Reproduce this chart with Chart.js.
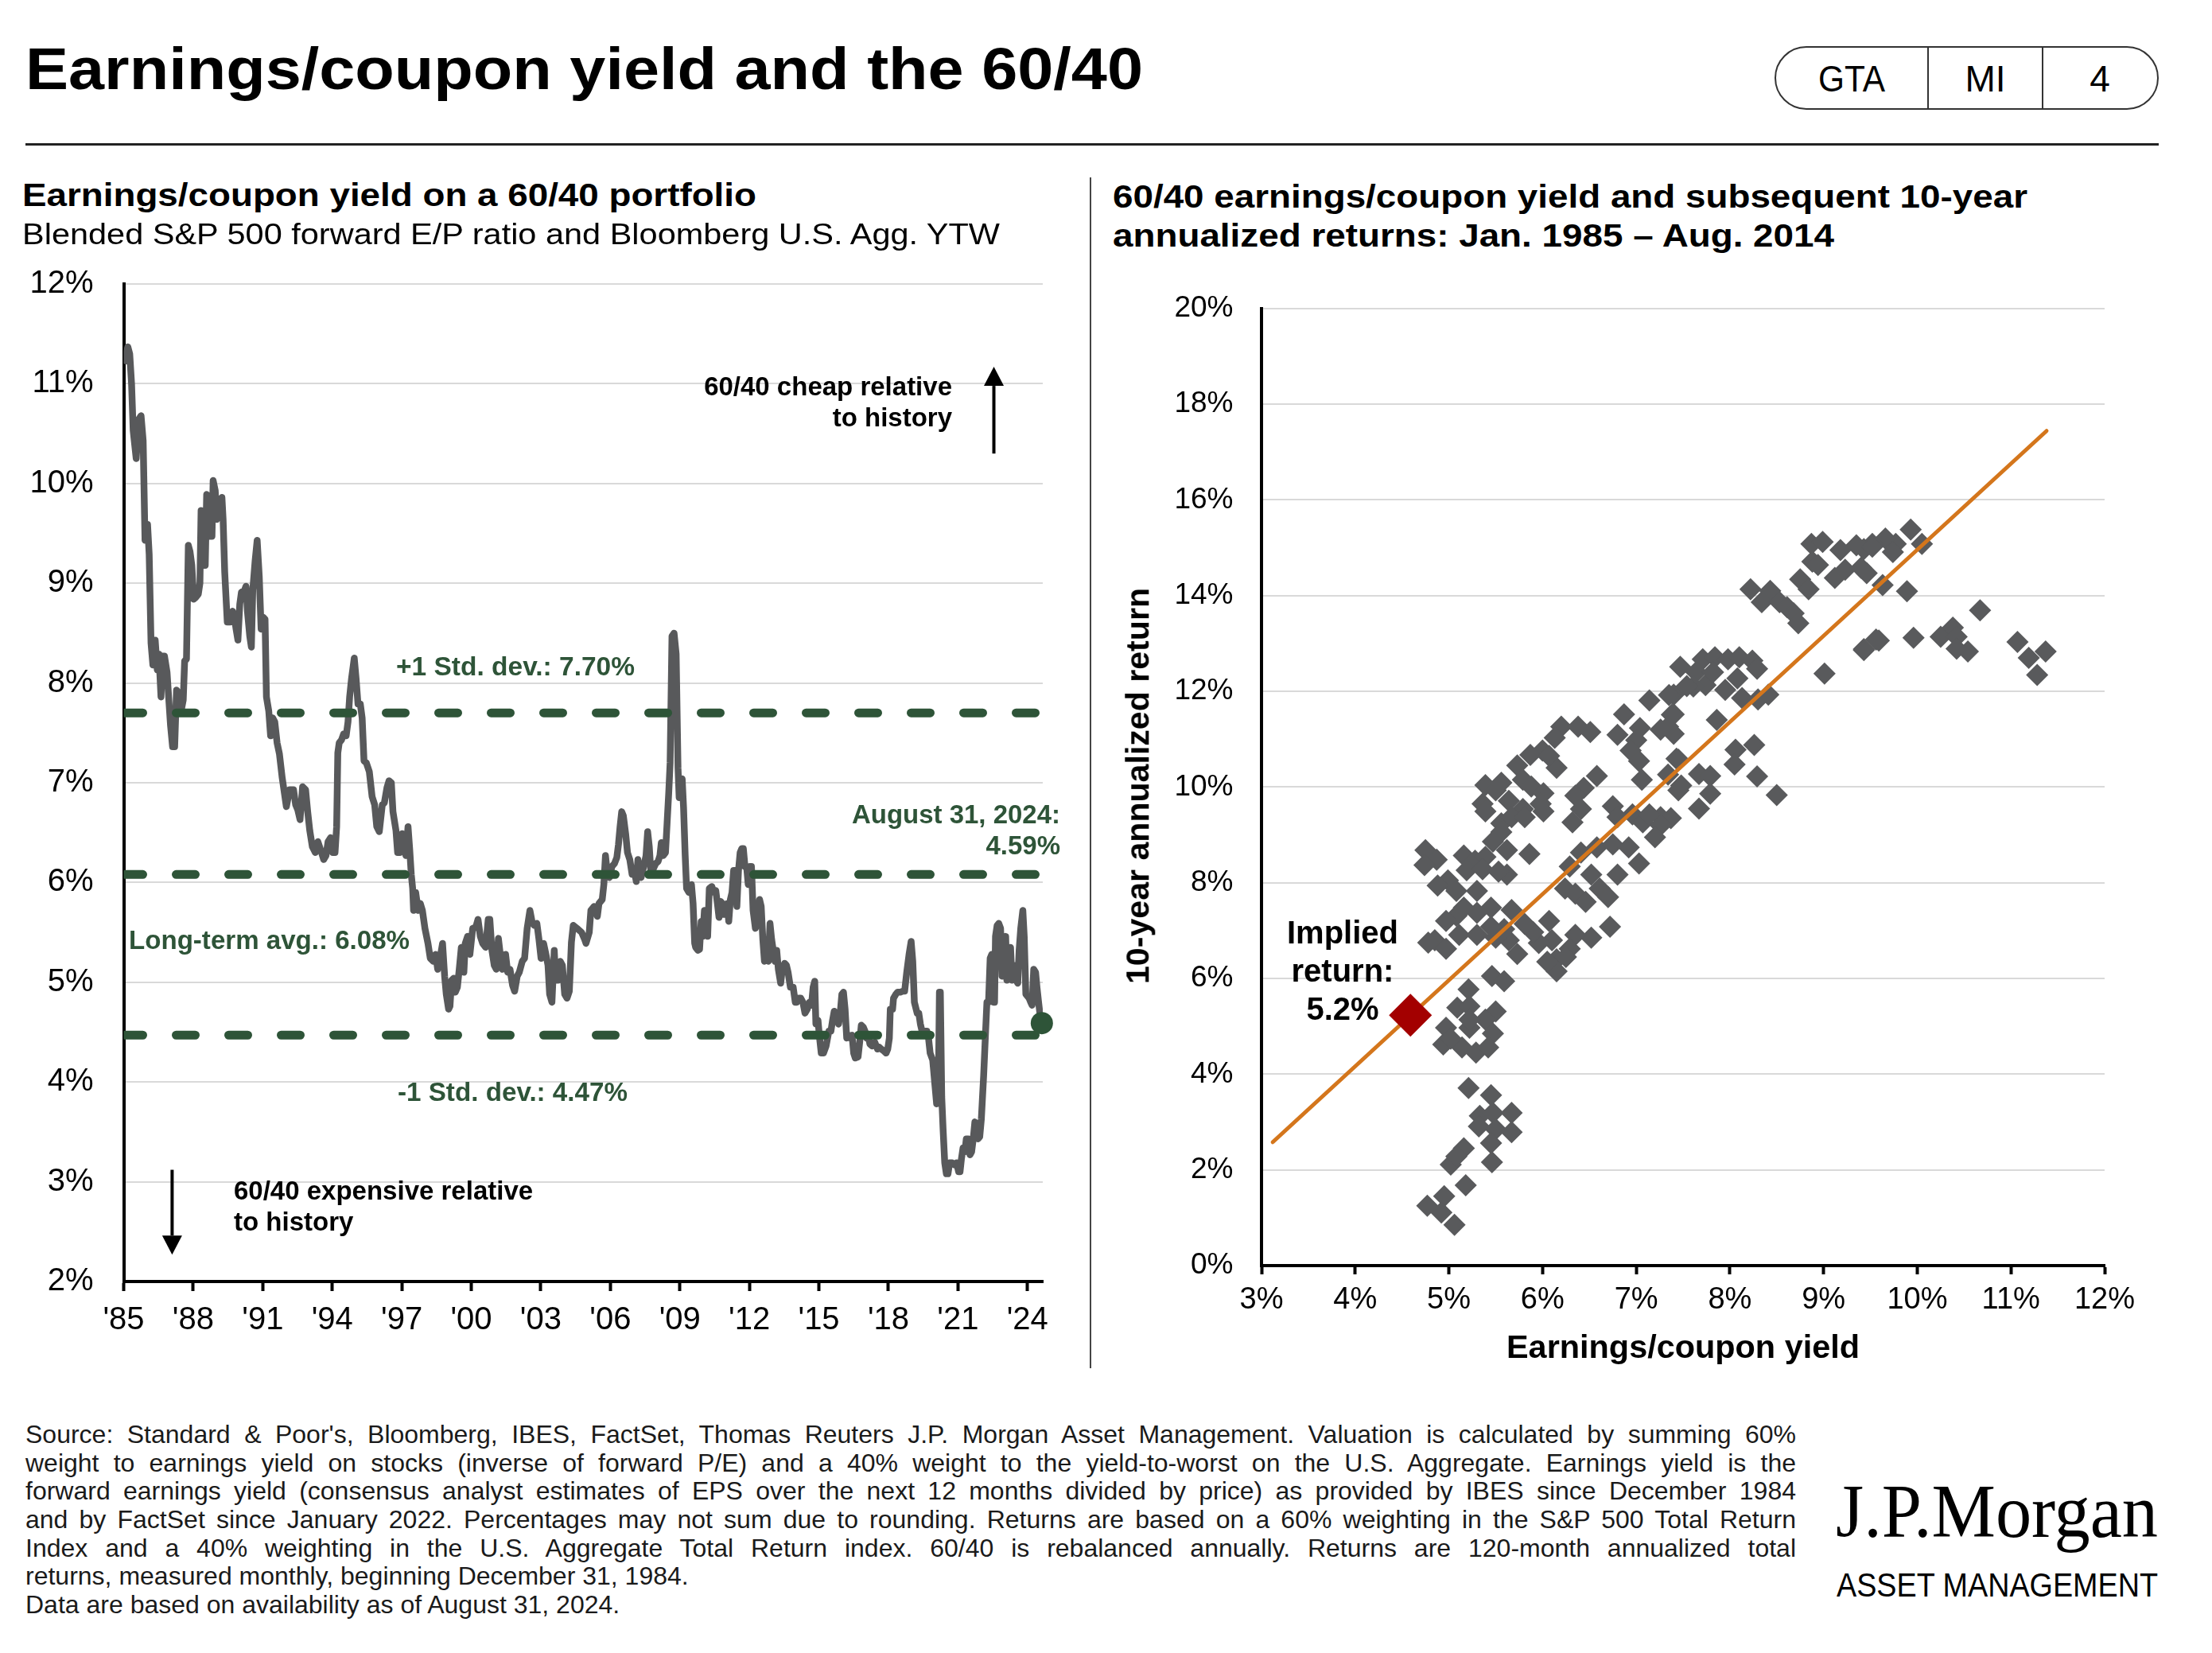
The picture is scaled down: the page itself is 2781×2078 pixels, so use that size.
<!DOCTYPE html>
<html>
<head>
<meta charset="utf-8">
<script src="https://cdn.jsdelivr.net/npm/chart.js@4.4.1/dist/chart.umd.min.js"></script>
<style>
  html, body { margin: 0; padding: 0; background: #fff; }
  body { width: 2781px; height: 2078px; position: relative; overflow: hidden;
         font-family: "Liberation Sans", Arial, sans-serif; color: #000; }
  .t { position: absolute; white-space: pre; transform-origin: 0 50%; }
  canvas { position: absolute; }
  .rule { position: absolute; background: #222; }
</style>
</head>
<body>

<div class="rule" style="left:32px;top:180px;width:2682px;height:3px"></div>
<div class="rule" style="left:1370px;top:223px;width:2px;height:1497px;background:#444"></div>
<div style="position:absolute;left:2231px;top:58px;width:479px;height:76px;border:2.5px solid #333;border-radius:40px"></div>
<div class="rule" style="left:2423px;top:59px;width:2px;height:79px;background:#333"></div>
<div class="rule" style="left:2567px;top:59px;width:2px;height:79px;background:#333"></div>

<canvas id="left" width="1371" height="1435" style="left:0;top:295px;width:1371px;height:1435px"></canvas>
<canvas id="right" width="1401" height="1430" style="left:1380px;top:330px;width:1401px;height:1430px"></canvas>

<script>
// ---- data ----
// 60/40 earnings/coupon yield, [year, %]
const yieldHistory = [
  [1985.00, 11.20], [1985.10, 11.30], [1985.18, 11.37], [1985.26, 11.30], [1985.34, 11.00],
  [1985.41, 10.53], [1985.54, 10.25], [1985.64, 10.64], [1985.75, 10.68], [1985.84, 10.43],
  [1985.92, 9.43], [1986.03, 9.59], [1986.10, 9.29], [1986.18, 8.40], [1986.26, 8.18],
  [1986.36, 8.43], [1986.45, 8.13], [1986.52, 8.29], [1986.61, 7.86], [1986.68, 8.27],
  [1986.76, 8.27], [1986.87, 8.11], [1986.94, 7.86], [1987.02, 7.58], [1987.11, 7.36],
  [1987.20, 7.36], [1987.28, 7.93], [1987.37, 7.90], [1987.48, 7.72], [1987.57, 7.83],
  [1987.63, 8.22], [1987.71, 8.24], [1987.79, 9.38], [1987.86, 9.32], [1987.94, 9.18],
  [1988.02, 8.84], [1988.12, 8.86], [1988.22, 8.89], [1988.29, 9.00], [1988.34, 9.73],
  [1988.40, 9.72], [1988.45, 9.18], [1988.52, 9.18], [1988.58, 9.89], [1988.68, 9.86],
  [1988.74, 9.47], [1988.81, 9.47], [1988.86, 10.03], [1988.95, 9.93], [1989.01, 9.64],
  [1989.09, 9.82], [1989.17, 9.68], [1989.24, 9.86], [1989.29, 9.64], [1989.36, 9.11],
  [1989.47, 8.61], [1989.59, 8.61], [1989.70, 8.72], [1989.78, 8.66], [1989.85, 8.54],
  [1989.93, 8.43], [1990.01, 8.79], [1990.08, 8.91], [1990.21, 8.93], [1990.28, 8.97],
  [1990.34, 8.72], [1990.44, 8.47], [1990.51, 8.36], [1990.57, 8.93], [1990.67, 9.22],
  [1990.76, 9.43], [1990.85, 9.07], [1990.93, 8.54], [1991.02, 8.66], [1991.10, 8.64],
  [1991.16, 7.86], [1991.26, 7.72], [1991.34, 7.47], [1991.43, 7.65], [1991.52, 7.61],
  [1991.62, 7.40], [1991.72, 7.29], [1991.84, 7.05], [1992.02, 6.76], [1992.16, 6.93],
  [1992.33, 6.93], [1992.42, 6.78], [1992.51, 6.73], [1992.61, 6.63], [1992.72, 6.96],
  [1992.85, 6.93], [1992.94, 6.71], [1993.03, 6.52], [1993.14, 6.36], [1993.27, 6.30],
  [1993.38, 6.41], [1993.51, 6.32], [1993.63, 6.23], [1993.73, 6.27], [1993.82, 6.41],
  [1993.93, 6.45], [1994.02, 6.30], [1994.12, 6.30], [1994.19, 6.56], [1994.24, 7.30],
  [1994.30, 7.40], [1994.40, 7.43], [1994.49, 7.49], [1994.60, 7.47], [1994.68, 7.61],
  [1994.75, 7.86], [1994.83, 8.04], [1994.95, 8.25], [1995.03, 8.04], [1995.11, 7.79],
  [1995.21, 7.79], [1995.29, 7.65], [1995.37, 7.22], [1995.47, 7.20], [1995.60, 7.11],
  [1995.72, 6.86], [1995.83, 6.78], [1995.92, 6.56], [1996.03, 6.51], [1996.16, 6.78],
  [1996.25, 6.80], [1996.36, 6.95], [1996.45, 7.02], [1996.55, 7.00], [1996.62, 6.71],
  [1996.75, 6.52], [1996.82, 6.30], [1996.92, 6.30], [1997.01, 6.49], [1997.10, 6.34],
  [1997.18, 6.27], [1997.27, 6.56], [1997.34, 6.34], [1997.41, 6.08], [1997.47, 5.94],
  [1997.51, 5.72], [1997.60, 5.90], [1997.71, 5.72], [1997.80, 5.79], [1997.89, 5.72],
  [1998.00, 5.54], [1998.13, 5.39], [1998.23, 5.24], [1998.36, 5.21], [1998.46, 5.28],
  [1998.55, 5.13], [1998.65, 5.24], [1998.76, 5.39], [1998.85, 5.06], [1998.92, 4.88],
  [1999.02, 4.73], [1999.08, 4.76], [1999.15, 5.02], [1999.24, 5.04], [1999.31, 4.90],
  [1999.40, 4.95], [1999.48, 5.13], [1999.57, 5.35], [1999.68, 5.10], [1999.74, 5.39],
  [1999.84, 5.46], [1999.94, 5.28], [2000.06, 5.54], [2000.19, 5.55], [2000.29, 5.63],
  [2000.39, 5.46], [2000.49, 5.39], [2000.62, 5.35], [2000.73, 5.63], [2000.80, 5.63],
  [2000.89, 5.32], [2000.99, 5.17], [2001.08, 5.13], [2001.17, 5.44], [2001.25, 5.28],
  [2001.34, 5.13], [2001.48, 5.28], [2001.57, 5.10], [2001.67, 5.13], [2001.78, 4.97],
  [2001.87, 4.91], [2001.98, 5.06], [2002.07, 5.10], [2002.20, 5.21], [2002.30, 5.24],
  [2002.41, 5.54], [2002.53, 5.72], [2002.62, 5.61], [2002.72, 5.57], [2002.83, 5.59],
  [2002.92, 5.43], [2003.01, 5.24], [2003.12, 5.39], [2003.22, 5.28], [2003.31, 5.17],
  [2003.38, 4.88], [2003.48, 4.80], [2003.58, 5.32], [2003.64, 5.02], [2003.75, 5.02],
  [2003.84, 5.21], [2003.93, 5.17], [2004.03, 4.88], [2004.13, 4.84], [2004.23, 4.91],
  [2004.32, 5.40], [2004.40, 5.57], [2004.56, 5.54], [2004.76, 5.50], [2004.89, 5.43],
  [2004.95, 5.39], [2005.09, 5.50], [2005.16, 5.72], [2005.30, 5.76], [2005.44, 5.66],
  [2005.51, 5.79], [2005.65, 5.83], [2005.72, 5.98], [2005.79, 6.27], [2005.86, 6.12],
  [2005.96, 6.05], [2006.07, 6.16], [2006.18, 6.19], [2006.28, 6.25], [2006.35, 6.38],
  [2006.42, 6.56], [2006.49, 6.71], [2006.56, 6.67], [2006.66, 6.49], [2006.74, 6.30],
  [2006.84, 6.23], [2006.94, 6.08], [2007.05, 6.10], [2007.12, 6.01], [2007.19, 6.23],
  [2007.26, 6.12], [2007.33, 6.05], [2007.44, 6.16], [2007.54, 6.27], [2007.61, 6.51],
  [2007.68, 6.36], [2007.75, 6.10], [2007.86, 6.14], [2007.96, 6.19], [2008.06, 6.21],
  [2008.14, 6.27], [2008.20, 6.40], [2008.28, 6.27], [2008.38, 6.30], [2008.45, 6.60],
  [2008.52, 6.90], [2008.58, 7.20], [2008.66, 8.47], [2008.75, 8.50], [2008.84, 8.29],
  [2008.92, 7.15], [2008.97, 6.85], [2009.04, 7.00], [2009.10, 7.04], [2009.16, 6.75],
  [2009.23, 6.27], [2009.29, 5.94], [2009.39, 5.90], [2009.50, 5.98], [2009.57, 5.79],
  [2009.64, 5.39], [2009.68, 5.35], [2009.78, 5.32], [2009.85, 5.33], [2009.92, 5.61],
  [2009.99, 5.46], [2010.06, 5.72], [2010.13, 5.54], [2010.20, 5.46], [2010.27, 5.94],
  [2010.38, 5.96], [2010.48, 5.90], [2010.55, 5.92], [2010.62, 5.79], [2010.69, 5.65],
  [2010.76, 5.81], [2010.83, 5.79], [2010.90, 5.68], [2010.97, 5.76], [2011.04, 5.79],
  [2011.11, 5.61], [2011.18, 5.83], [2011.25, 5.90], [2011.32, 6.12], [2011.39, 6.12],
  [2011.46, 5.76], [2011.53, 6.12], [2011.60, 6.30], [2011.67, 6.34], [2011.74, 6.34],
  [2011.81, 6.16], [2011.88, 6.16], [2011.95, 5.98], [2012.02, 6.16], [2012.09, 6.16],
  [2012.16, 5.72], [2012.26, 5.54], [2012.34, 5.61], [2012.44, 5.83], [2012.51, 5.76],
  [2012.58, 5.43], [2012.65, 5.21], [2012.72, 5.24], [2012.82, 5.21], [2012.89, 5.59],
  [2012.96, 5.43], [2013.03, 5.32], [2013.10, 5.21], [2013.18, 5.32], [2013.25, 5.13],
  [2013.35, 4.99], [2013.42, 5.13], [2013.52, 5.19], [2013.60, 5.17], [2013.67, 5.10],
  [2013.77, 4.95], [2013.89, 4.95], [2013.98, 4.80], [2014.05, 4.80], [2014.12, 4.84],
  [2014.22, 4.84], [2014.31, 4.80], [2014.40, 4.69], [2014.50, 4.73], [2014.59, 4.80],
  [2014.68, 4.77], [2014.75, 4.95], [2014.82, 5.01], [2014.87, 4.58], [2014.96, 4.62],
  [2015.03, 4.44], [2015.10, 4.29], [2015.20, 4.29], [2015.31, 4.36], [2015.43, 4.51],
  [2015.52, 4.51], [2015.59, 4.62], [2015.66, 4.71], [2015.76, 4.69], [2015.85, 4.58],
  [2015.92, 4.69], [2015.99, 4.88], [2016.06, 4.90], [2016.13, 4.73], [2016.20, 4.44],
  [2016.27, 4.47], [2016.36, 4.44], [2016.43, 4.47], [2016.50, 4.29], [2016.57, 4.24],
  [2016.69, 4.25], [2016.76, 4.40], [2016.83, 4.57], [2016.92, 4.55], [2016.99, 4.51],
  [2017.06, 4.44], [2017.13, 4.47], [2017.20, 4.38], [2017.30, 4.36], [2017.41, 4.40],
  [2017.53, 4.33], [2017.60, 4.35], [2017.69, 4.33], [2017.81, 4.31], [2017.90, 4.29],
  [2017.97, 4.33], [2018.04, 4.44], [2018.08, 4.73], [2018.18, 4.73], [2018.22, 4.84],
  [2018.32, 4.88], [2018.39, 4.90], [2018.51, 4.90], [2018.61, 4.91], [2018.70, 4.91],
  [2018.79, 5.10], [2018.89, 5.28], [2018.98, 5.41], [2019.05, 5.21], [2019.12, 4.80],
  [2019.24, 4.69], [2019.31, 4.69], [2019.38, 4.58], [2019.45, 4.51], [2019.52, 4.51],
  [2019.66, 4.51], [2019.73, 4.44], [2019.80, 4.29], [2019.91, 4.22], [2020.01, 3.96],
  [2020.08, 3.78], [2020.15, 3.82], [2020.20, 4.90], [2020.24, 4.90], [2020.30, 3.85],
  [2020.36, 3.52], [2020.43, 3.19], [2020.50, 3.08], [2020.57, 3.08], [2020.64, 3.19],
  [2020.75, 3.19], [2020.85, 3.17], [2020.94, 3.19], [2021.03, 3.10], [2021.09, 3.10],
  [2021.15, 3.23], [2021.22, 3.34], [2021.30, 3.30], [2021.36, 3.43], [2021.45, 3.43],
  [2021.52, 3.27], [2021.59, 3.30], [2021.66, 3.43], [2021.73, 3.60], [2021.80, 3.58],
  [2021.87, 3.43], [2021.94, 3.45], [2022.01, 3.63], [2022.11, 4.07], [2022.18, 4.44],
  [2022.25, 4.80], [2022.32, 4.80], [2022.39, 5.24], [2022.46, 5.28], [2022.53, 4.80],
  [2022.58, 4.80], [2022.62, 5.46], [2022.69, 5.57], [2022.76, 5.59], [2022.84, 5.54],
  [2022.90, 5.06], [2022.99, 5.28], [2023.06, 5.46], [2023.11, 5.02], [2023.18, 5.32],
  [2023.27, 5.35], [2023.33, 5.02], [2023.41, 5.17], [2023.51, 5.02], [2023.58, 4.99],
  [2023.64, 5.32], [2023.71, 5.54], [2023.80, 5.72], [2023.86, 5.46], [2023.93, 4.88],
  [2024.00, 4.86], [2024.07, 4.84], [2024.14, 4.80], [2024.20, 4.77], [2024.27, 5.13],
  [2024.35, 5.10], [2024.41, 4.95], [2024.48, 4.80], [2024.55, 4.66], [2024.62, 4.59]
];
const latestPoint = [2024.62, 4.59];
const stdLevels = [7.70, 6.08, 4.47];
const yearRange = [1985, 2024.66];
const yearTicks = [1985, 1988, 1991, 1994, 1997, 2000, 2003, 2006, 2009, 2012, 2015, 2018, 2021, 2024];
const yieldTicksLeft = [2, 12, 1];

// scatter: [earnings/coupon yield %, subsequent 10y annualized return %]
const scatterPoints = [
  [9.93, 15.38], [10.05, 15.08], [9.77, 15.08], [9.66, 15.19], [9.52, 15.08], [9.43, 14.97],
  [9.74, 14.91], [9.46, 14.47], [9.63, 14.22], [9.89, 14.09], [10.67, 13.69], [9.59, 13.06],
  [9.43, 12.86], [9.96, 13.12], [10.25, 13.14], [10.38, 13.33], [10.42, 13.14], [10.42, 12.89],
  [10.54, 12.83], [11.07, 13.03], [11.19, 12.70], [11.37, 12.83], [11.28, 12.34],
  [8.87, 15.08], [8.99, 15.12], [9.18, 14.95], [9.35, 15.05], [9.52, 15.02], [8.88, 14.71],
  [8.94, 14.64], [8.75, 14.34], [8.84, 14.13], [9.12, 14.37], [9.23, 14.54], [9.40, 14.58],
  [8.22, 14.13], [8.43, 14.10], [8.34, 13.86], [8.53, 13.86], [8.61, 13.76], [8.68, 13.63],
  [8.73, 13.42], [9.43, 12.88], [9.56, 13.08], [9.01, 12.37],
  [7.47, 12.51], [7.71, 12.67], [7.84, 12.71], [7.98, 12.67], [8.10, 12.71], [8.24, 12.64],
  [8.29, 12.47], [7.64, 12.40], [7.74, 12.13], [7.61, 12.10], [7.82, 12.40], [8.08, 12.27],
  [7.95, 12.03], [8.13, 11.86], [8.30, 11.83], [8.41, 11.93], [7.40, 11.93], [7.40, 11.52],
  [7.40, 11.11], [7.86, 11.40], [8.06, 10.78], [8.26, 10.88], [8.05, 10.47], [8.29, 10.22],
  [8.50, 9.83], [7.45, 10.57], [7.48, 10.03], [7.67, 10.27], [7.79, 10.23], [7.79, 9.86],
  [7.67, 9.55], [7.37, 9.35],
  [7.54, 12.11], [7.35, 11.92], [7.14, 11.81], [6.87, 11.52], [7.38, 11.51], [7.34, 11.26],
  [7.04, 11.23], [7.26, 11.20], [6.80, 11.09], [7.00, 10.98], [6.94, 10.76], [7.03, 10.54],
  [7.06, 10.15], [7.43, 10.59], [7.34, 10.26], [7.45, 9.93], [7.26, 9.37], [6.96, 9.43],
  [6.75, 9.60], [7.07, 9.26], [6.20, 11.26], [6.38, 11.26], [6.51, 11.15], [6.13, 11.03],
  [6.00, 10.76], [5.87, 10.67], [5.73, 10.45], [6.15, 10.40], [6.07, 10.65], [6.58, 10.23],
  [6.44, 9.98], [6.35, 9.82], [6.41, 9.54], [5.39, 10.04], [5.50, 9.93], [5.56, 10.09],
  [5.79, 10.15], [5.88, 10.01], [6.01, 9.87], [5.36, 9.65], [5.64, 9.71], [5.79, 9.54],
  [5.98, 9.65], [5.56, 9.24],
  [5.39, 9.49], [5.67, 9.37], [5.81, 9.37], [6.01, 9.49], [6.32, 9.26], [6.80, 9.37],
  [7.14, 9.43], [7.26, 9.20], [5.56, 9.06], [5.47, 8.86], [5.62, 8.68], [5.86, 8.60],
  [4.75, 8.68], [4.87, 8.48], [4.74, 8.37], [5.16, 8.57], [5.28, 8.46], [5.39, 8.54],
  [5.19, 8.26], [5.36, 8.28], [5.62, 8.17], [5.53, 8.23], [4.99, 8.05], [5.08, 7.83],
  [4.88, 7.94], [5.30, 7.83], [6.41, 8.63], [6.58, 8.74], [6.75, 8.80], [6.92, 8.74],
  [7.03, 8.40], [6.80, 8.17], [6.61, 7.88], [6.52, 8.17], [6.29, 8.34], [6.24, 7.88],
  [6.35, 7.77], [6.46, 7.60], [6.72, 7.08], [6.52, 6.85], [6.35, 6.91], [6.29, 6.62],
  [6.15, 6.40], [6.10, 6.80], [5.96, 6.74], [5.90, 6.97], [5.73, 6.51], [5.64, 6.80],
  [5.50, 6.85], [5.59, 7.03], [5.67, 7.43], [5.45, 7.48], [5.30, 7.37], [5.08, 7.31],
  [4.97, 7.20], [4.85, 6.80], [4.97, 6.62], [5.11, 6.91], [5.16, 7.48], [5.81, 7.14],
  [6.07, 7.20], [5.45, 7.08], [5.30, 6.91], [6.15, 6.15], [6.05, 6.35], [6.25, 6.45],
  [7.20, 8.95], [4.78, 6.75], [6.70, 7.70],
  [5.46, 6.05], [5.59, 5.94], [5.21, 5.77], [5.09, 5.39], [5.22, 5.42], [5.50, 5.31],
  [5.39, 5.14], [4.97, 4.97], [5.22, 4.97], [5.47, 4.85], [4.94, 4.62], [5.14, 4.56],
  [5.29, 4.45], [5.42, 4.56], [5.22, 5.14], [5.02, 4.74],
  [5.21, 3.71], [5.45, 3.56], [5.33, 3.13], [5.47, 3.19], [5.67, 3.19], [5.32, 2.91],
  [5.50, 2.85], [5.67, 2.79], [5.45, 2.56], [5.46, 2.16], [5.16, 2.45], [5.02, 2.11],
  [5.18, 1.68], [4.95, 1.45], [4.77, 1.25], [4.92, 1.11], [5.06, 0.85], [5.08, 2.28]
];
const fitLine = [[3.12, 2.58], [11.38, 17.44]];
const impliedPoint = [4.59, 5.23];
const yieldTicksRight = [3, 12, 1];
const returnTicks = [0, 20, 2];

// arrows on the left chart, in data units: x year, from -> to value
const arrows = [
  { x: 2022.55, from: 10.30, to: 11.17 },
  { x: 1987.09, from: 3.12, to: 2.27 }
];

const GREEN = '#2E5438';
const GRAY = '#58595B';
const FONT = '"Liberation Sans", Arial, sans-serif';

Chart.defaults.font.family = FONT;
Chart.defaults.color = '#000';

const arrowPlugin = {
  id: 'arrows',
  afterDatasetsDraw(chart) {
    const ctx = chart.ctx, x = chart.scales.x, y = chart.scales.y;
    ctx.save();
    ctx.fillStyle = '#000';
    ctx.strokeStyle = '#000';
    ctx.lineWidth = 4;
    arrows.forEach(a => {
      const px = x.getPixelForValue(a.x);
      const p0 = y.getPixelForValue(a.from);
      const p1 = y.getPixelForValue(a.to);
      const dir = Math.sign(p1 - p0);
      const head = 24;
      ctx.beginPath();
      ctx.moveTo(px, p0);
      ctx.lineTo(px, p1 - dir * head);
      ctx.stroke();
      ctx.beginPath();
      ctx.moveTo(px, p1);
      ctx.lineTo(px - 12.5, p1 - dir * head);
      ctx.lineTo(px + 12.5, p1 - dir * head);
      ctx.closePath();
      ctx.fill();
    });
    ctx.restore();
  }
};

// left chart: time series
new Chart(document.getElementById('left'), {
  type: 'line',
  data: {
    datasets: [
      ...stdLevels.map(v => ({
        data: [{ x: yearRange[0], y: v }, { x: yearRange[1], y: v }],
        borderColor: GREEN, borderWidth: 11, borderDash: [24, 42], borderCapStyle: 'round',
        pointRadius: 0, order: 1
      })),
      {
        type: 'scatter',
        data: [{ x: latestPoint[0], y: latestPoint[1] }],
        pointRadius: 14, backgroundColor: GREEN, borderWidth: 0, clip: false, order: 0
      },
      {
        data: yieldHistory.map(p => ({ x: p[0], y: p[1] })),
        borderColor: GRAY, borderWidth: 8.5, borderJoinStyle: 'round',
        pointRadius: 0, tension: 0, order: 2
      }
    ]
  },
  options: {
    responsive: false, animation: false, devicePixelRatio: 1,
    layout: { autoPadding: false, padding: { left: 0, top: 62, right: 60, bottom: 19 } },
    plugins: { legend: { display: false }, tooltip: { enabled: false } },
    scales: {
      x: {
        type: 'linear', min: yearRange[0], max: yearRange[1],
        afterBuildTicks: s => { s.ticks = yearTicks.map(v => ({ value: v })); },
        afterFit: s => { s.height = 100; },
        grid: { drawOnChartArea: false, drawTicks: true, tickLength: 12, tickColor: '#000', tickWidth: 4 },
        border: { color: '#000', width: 4 },
        ticks: { padding: 13, color: '#000', font: { size: 40 }, maxRotation: 0, autoSkip: false,
                 callback: v => "'" + String(v).slice(2) }
      },
      y: {
        min: yieldTicksLeft[0], max: yieldTicksLeft[1],
        afterFit: s => { s.width = 155.5; },
        grid: { color: '#D9D9D9', lineWidth: 2, drawTicks: false },
        border: { color: '#000', width: 4 },
        ticks: { stepSize: yieldTicksLeft[2], padding: 38, color: '#000', font: { size: 40 },
                 callback: v => v + '%' }
      }
    }
  },
  plugins: [arrowPlugin]
});

// right chart: scatter
new Chart(document.getElementById('right'), {
  type: 'scatter',
  data: {
    datasets: [
      {
        data: [{ x: impliedPoint[0], y: impliedPoint[1] }],
        pointStyle: 'rectRot', pointRadius: 27, backgroundColor: '#A30000', borderWidth: 0, order: 0
      },
      {
        type: 'line',
        data: fitLine.map(p => ({ x: p[0], y: p[1] })),
        borderColor: '#D4761C', borderWidth: 5, borderCapStyle: 'round', pointRadius: 0, order: 1
      },
      {
        data: scatterPoints.map(p => ({ x: p[0], y: p[1] })),
        pointStyle: 'rectRot', pointRadius: 14, backgroundColor: '#595A5C', borderWidth: 0, order: 2
      }
    ]
  },
  options: {
    responsive: false, animation: false, devicePixelRatio: 1,
    layout: { autoPadding: false, padding: { left: 0, top: 57, right: 135, bottom: 69 } },
    plugins: { legend: { display: false }, tooltip: { enabled: false } },
    scales: {
      x: {
        type: 'linear', min: yieldTicksRight[0], max: yieldTicksRight[1],
        afterFit: s => { s.height = 100; },
        grid: { drawOnChartArea: false, drawTicks: true, tickLength: 11, tickColor: '#000', tickWidth: 4 },
        border: { color: '#000', width: 4 },
        ticks: { stepSize: yieldTicksRight[2], padding: 10, color: '#000', font: { size: 38 },
                 callback: v => v + '%' }
      },
      y: {
        min: returnTicks[0], max: returnTicks[1],
        afterFit: s => { s.width = 206; },
        grid: { color: '#D9D9D9', lineWidth: 2, drawTicks: false },
        border: { color: '#000', width: 4 },
        ticks: { stepSize: returnTicks[2], padding: 35.5, color: '#000', font: { size: 37 },
                 callback: v => v + '%' }
      }
    }
  }
});

// ---- text ----
function put(txt, x, cy, o) {
  const d = document.createElement('div');
  d.className = 't';
  d.textContent = txt;
  const size = o.size;
  d.style.font = (o.weight || 400) + ' ' + size + 'px ' + (o.family || FONT);
  d.style.lineHeight = (size * 1.2) + 'px';
  d.style.color = o.color || '#000';
  document.body.appendChild(d);
  const w = d.getBoundingClientRect().width;
  const s = o.width ? o.width / w : 1;
  const ww = w * s;
  let left = x;
  if (o.align === 'right') left = x - ww;
  else if (o.align === 'center') left = x - ww / 2;
  d.style.left = left + 'px';
  d.style.top = (cy - size * 0.6) + 'px';
  if (s !== 1) d.style.transform = 'scaleX(' + s + ')';
  return d;
}

put('Earnings/coupon yield and the 60/40', 32, 86, { size: 75, weight: 700, width: 1405 });
put('GTA', 2328, 100, { size: 46, align: 'center', width: 84 });
put('MI', 2496, 100, { size: 46, align: 'center' });
put('4', 2640, 100, { size: 46, align: 'center' });

put('Earnings/coupon yield on a 60/40 portfolio', 28, 246, { size: 41, weight: 700, width: 923 });
put('Blended S&P 500 forward E/P ratio and Bloomberg U.S. Agg. YTW', 28, 295, { size: 37, width: 1229 });
put('60/40 earnings/coupon yield and subsequent 10-year', 1399, 248, { size: 41, weight: 700, width: 1150 });
put('annualized returns: Jan. 1985 \u2013 Aug. 2014', 1399, 297, { size: 41, weight: 700, width: 907 });

put('60/40 cheap relative', 1197, 486, { size: 33, weight: 700, align: 'right' });
put('to history', 1197, 525, { size: 33, weight: 700, align: 'right' });
put('+1 Std. dev.: 7.70%', 498, 838, { size: 33, weight: 700, color: GREEN, width: 300 });
put('Long-term avg.: 6.08%', 162, 1182, { size: 33, weight: 700, color: GREEN, width: 353 });
put('-1 Std. dev.: 4.47%', 500, 1373, { size: 33, weight: 700, color: GREEN, width: 289 });
put('August 31, 2024:', 1333, 1024, { size: 33, weight: 700, color: GREEN, align: 'right', width: 262 });
put('4.59%', 1333, 1063, { size: 33, weight: 700, color: GREEN, align: 'right' });
put('60/40 expensive relative', 294, 1497, { size: 33, weight: 700 });
put('to history', 294, 1536, { size: 33, weight: 700 });

put('Implied', 1688, 1172, { size: 40, weight: 700, align: 'center' });
put('return:', 1688, 1220, { size: 40, weight: 700, align: 'center' });
put('5.2%', 1688, 1268, { size: 40, weight: 700, align: 'center' });
put('Earnings/coupon yield', 2116, 1693, { size: 40, weight: 700, align: 'center', width: 444 });
(function () {
  const d = put('10-year annualized return', 1430, 988, { size: 40, weight: 700, align: 'center' });
  const w = d.getBoundingClientRect().width;
  const s = 498 / w;
  d.style.transformOrigin = '50% 50%';
  d.style.transform = 'rotate(-90deg) scaleX(' + s + ')';
})();

// footnote, justified line by line
const footLines = [
  "Source: Standard & Poor's, Bloomberg, IBES, FactSet, Thomas Reuters J.P. Morgan Asset Management. Valuation is calculated by summing 60%",
  "weight to earnings yield on stocks (inverse of forward P/E) and a 40% weight to the yield-to-worst on the U.S. Aggregate. Earnings yield is the",
  "forward earnings yield (consensus analyst estimates of EPS over the next 12 months divided by price) as provided by IBES since December 1984",
  "and by FactSet since January 2022. Percentages may not sum due to rounding. Returns are based on a 60% weighting in the S&P 500 Total Return",
  "Index and a 40% weighting in the U.S. Aggregate Total Return index. 60/40 is rebalanced annually. Returns are 120-month annualized total",
  "returns, measured monthly, beginning December 31, 1984.",
  "Data are based on availability as of August 31, 2024."
];
footLines.forEach((line, i) => {
  const d = put(line, 32, 1803 + i * 35.7, { size: 32, color: '#1a1a1a' });
  if (i < 5) {
    const w = d.getBoundingClientRect().width;
    const gaps = line.split(' ').length - 1;
    const extra = (2226 - w) / gaps;
    if (extra >= 0) d.style.wordSpacing = extra + 'px';
    else d.style.transform = 'scaleX(' + (2226 / w) + ')';
  }
});

put('J.P.Morgan', 2308, 1900, { size: 96, family: '"Liberation Serif", "Times New Roman", serif', width: 405 });
put('ASSET MANAGEMENT', 2309, 1993, { size: 42, width: 404 });
</script>
</body>
</html>
